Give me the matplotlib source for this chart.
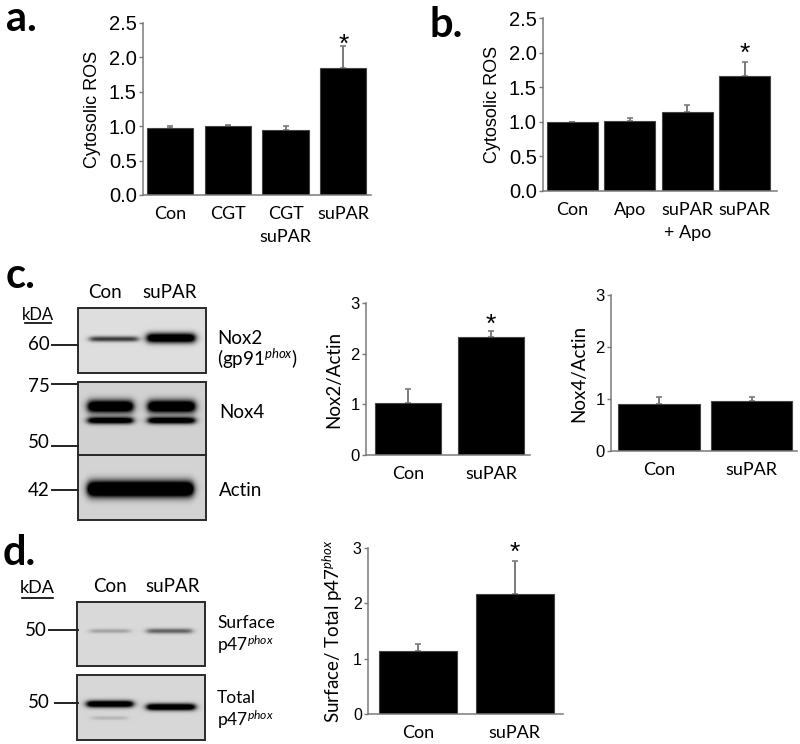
import numpy as np
import matplotlib
matplotlib.use("Agg")
import matplotlib.pyplot as plt
from matplotlib.patches import Rectangle

plt.rcParams['font.family'] = ['Lato', 'DejaVu Sans']
plt.rcParams['mathtext.fontset'] = 'custom'
plt.rcParams['mathtext.rm'] = 'Lato'
plt.rcParams['mathtext.it'] = 'Lato:italic'

W, H = 800, 744

# ---- data ----
a_labels = ['Con', 'CGT', 'CGT\nsuPAR', 'suPAR']
a_vals = [0.98, 1.01, 0.95, 1.85]
a_errs = [0.03, 0.01, 0.06, 0.31]

b_labels = ['Con', 'Apo', 'suPAR\n+ Apo', 'suPAR']
b_vals = [0.99, 1.01, 1.14, 1.66]
b_errs = [0.01, 0.04, 0.10, 0.21]

two_labels = ['Con', 'suPAR']
nox2_vals = [1.03, 2.33]
nox2_errs = [0.27, 0.12]
nox4_vals = [0.90, 0.97]
nox4_errs = [0.14, 0.07]
p47_vals = [1.13, 2.17]
p47_errs = [0.13, 0.60]

ros_ticks = [0.0, 0.5, 1.0, 1.5, 2.0, 2.5]
ros_ticklabels = ['0.0', '0.5', '1.0', '1.5', '2.0', '2.5']
ratio_ticks = [0, 1, 2, 3]

GRAY = '#7a7a7a'


def px_rect(l, t, r, b):
    return [l / W, 1 - b / H, (r - l) / W, (b - t) / H]


fig = plt.figure(figsize=(8, 7.44), dpi=100)

# overlay in pixel coordinates for blots and labels
ov = fig.add_axes([0, 0, 1, 1])
ov.patch.set_visible(False)


def draw_blot(box, bg, bands):
    l, t, r, b = box
    w, h = r - l, b - t
    X, Y = np.meshgrid(np.arange(w) + 0.5, np.arange(h) + 0.5)
    dark = np.zeros_like(X)
    for x0, x1, yc, hh, s in bands:
        sx = 0.5 * (np.tanh((X - x0) / 4.0) - np.tanh((X - x1) / 4.0))
        dark += s * sx * np.exp(-((Y - yc) / hh) ** 2)
    img = bg * (1 - np.clip(dark, 0, 1))
    ov.imshow(img, cmap='gray', vmin=0, vmax=1, extent=(l, r, b, t),
              aspect='auto', interpolation='bilinear', zorder=1)
    ov.add_patch(Rectangle((l, t), w, h, fill=False, ec='#2a2a2a',
                           lw=1.4, zorder=2))


# panel c blots
draw_blot((78, 308, 206, 373), 0.87,
          [(12, 60, 31, 2.8, 0.75), (69, 117, 30, 5.0, 1.4)])
draw_blot((78, 382, 206, 455), 0.82,
          [(10, 55, 24.5, 6.5, 1.5), (70, 117, 24.5, 6.5, 1.5),
           (10, 55, 38.5, 3.5, 1.3), (70, 117, 38.5, 3.5, 1.3)])
draw_blot((78, 455, 206, 520), 0.83,
          [(10, 62, 34, 8.0, 1.8), (62, 115, 34, 8.0, 1.8)])
# panel d blots
draw_blot((77, 602, 205, 666), 0.85,
          [(13, 53, 29, 2.2, 0.25), (70, 115, 29, 2.6, 0.55)])
draw_blot((77, 675, 205, 740), 0.84,
          [(10, 56, 29, 3.5, 1.4), (70, 118, 32, 3.5, 1.4),
           (15, 50, 43, 2.0, 0.15)])

# kDa marker lines
for x0, y in [(52, 345), (52, 384), (52, 446), (52, 490), (49, 630), (55, 703)]:
    ov.plot([x0, 78], [y, y], color='#222222', lw=1.4, zorder=3)

fs = 13.5
for txt, x, y in [('60', 50, 345), ('75', 50, 386), ('50', 50, 443),
                  ('42', 50, 490), ('50', 47, 630), ('50', 50, 703)]:
    ov.text(x, y, txt, ha='right', va='center', fontsize=fs)

ov.text(38, 315, 'kDA', ha='center', va='center', fontsize=12)
ov.plot([25, 51], [323, 323], color='black', lw=1.2)
ov.text(37, 588, 'kDA', ha='center', va='center', fontsize=13)
ov.plot([22, 53], [598, 598], color='black', lw=1.2)

for x, txt in [(105, 'Con'), (170, 'suPAR')]:
    ov.text(x, 292, txt, ha='center', va='center', fontsize=fs)
for x, txt in [(110, 'Con'), (173, 'suPAR')]:
    ov.text(x, 587, txt, ha='center', va='center', fontsize=fs)

ov.text(217, 338, 'Nox2', ha='left', va='center', fontsize=fs)
ov.text(217, 359, '(gp91$^{phox}$)', ha='left', va='center', fontsize=fs)
ov.text(219, 412, 'Nox4', ha='left', va='center', fontsize=fs)
ov.text(219, 490, 'Actin', ha='left', va='center', fontsize=fs)
ov.text(217, 623, 'Surface', ha='left', va='center', fontsize=12.5)
ov.text(217, 645, 'p47$^{phox}$', ha='left', va='center', fontsize=12.5)
ov.text(217, 698, 'Total', ha='left', va='center', fontsize=12.5)
ov.text(217, 720, 'p47$^{phox}$', ha='left', va='center', fontsize=12.5)

# panel letters
for txt, x, y in [('a.', 6, 31), ('b.', 430, 37), ('c.', 6, 288), ('d.', 3, 565)]:
    ov.text(x, y, txt, ha='left', va='baseline', fontsize=30,
            fontweight='bold')

ov.set_xlim(0, W)
ov.set_ylim(H, 0)
ov.axis('off')


def bar_panel(rect, labels, vals, errs, xlim, width, ylim, ticks, ticklabels,
              tick_fs, ylabel, ylabel_font, ylabel_fs, star_off):
    ax = fig.add_axes(px_rect(*rect))
    x = np.arange(len(vals))
    ax.bar(x, vals, width=width, color='black', edgecolor='#444444', lw=0.8,
           zorder=2)
    ax.errorbar(x, vals, yerr=[np.zeros(len(errs)), errs], fmt='none',
                ecolor=GRAY, elinewidth=1.4, capsize=2.5, capthick=1.2,
                zorder=1)
    if star_off is not None:
        last = len(vals) - 1
        ax.annotate('*', (x[last], vals[last] + errs[last]),
                    xytext=(0, star_off), textcoords='offset pixels',
                    ha='center', va='baseline', fontsize=19,
                    family='Liberation Sans')
    ax.set_xlim(*xlim)
    ax.set_ylim(*ylim)
    ax.set_yticks(ticks)
    ax.set_yticklabels(ticklabels, family='Liberation Sans', fontsize=tick_fs)
    ax.set_xticks(x)
    ax.set_xticklabels(labels, fontsize=13, linespacing=1.5)
    ax.tick_params(axis='x', length=0, pad=8)
    ax.tick_params(axis='y', length=3, width=1, color=GRAY, pad=1.5)
    for s in ['top', 'right']:
        ax.spines[s].set_visible(False)
    for s in ['left', 'bottom']:
        ax.spines[s].set_color(GRAY)
        ax.spines[s].set_linewidth(1.1)
    ax.set_ylabel(ylabel, family=ylabel_font, fontsize=ylabel_fs, labelpad=6)
    return ax


bar_panel((143, 23, 371, 195), a_labels, a_vals, a_errs, (-0.47, 3.48), 0.8,
          (0, 2.5), ros_ticks, ros_ticklabels, 14.5, 'Cytosolic ROS',
          'Liberation Sans', 13, -5)
bar_panel((543, 18, 777, 191), b_labels, b_vals, b_errs, (-0.51, 3.56), 0.89,
          (0, 2.5), ros_ticks, ros_ticklabels, 14.5, 'Cytosolic ROS',
          'Liberation Sans', 13, 1)
bar_panel((366, 303, 530, 455), two_labels, nox2_vals, nox2_errs,
          (-0.51, 1.47), 0.8, (0, 3), ratio_ticks, ratio_ticks, 12,
          'Nox2/Actin', 'Lato', 13.5, -1)
bar_panel((611, 295, 797, 451), two_labels, nox4_vals, nox4_errs,
          (-0.52, 1.49), 0.88, (0, 3), ratio_ticks, ratio_ticks, 12,
          'Nox4/Actin', 'Lato', 13.5, None)
bar_panel((368, 548, 563, 714), two_labels, p47_vals, p47_errs,
          (-0.52, 1.50), 0.81, (0, 3), ratio_ticks, ratio_ticks, 11.5,
          'Surface/ Total p47$^{phox}$', 'Lato', 13.5, 1)

fig.savefig('out.png', dpi=100, facecolor='white')
